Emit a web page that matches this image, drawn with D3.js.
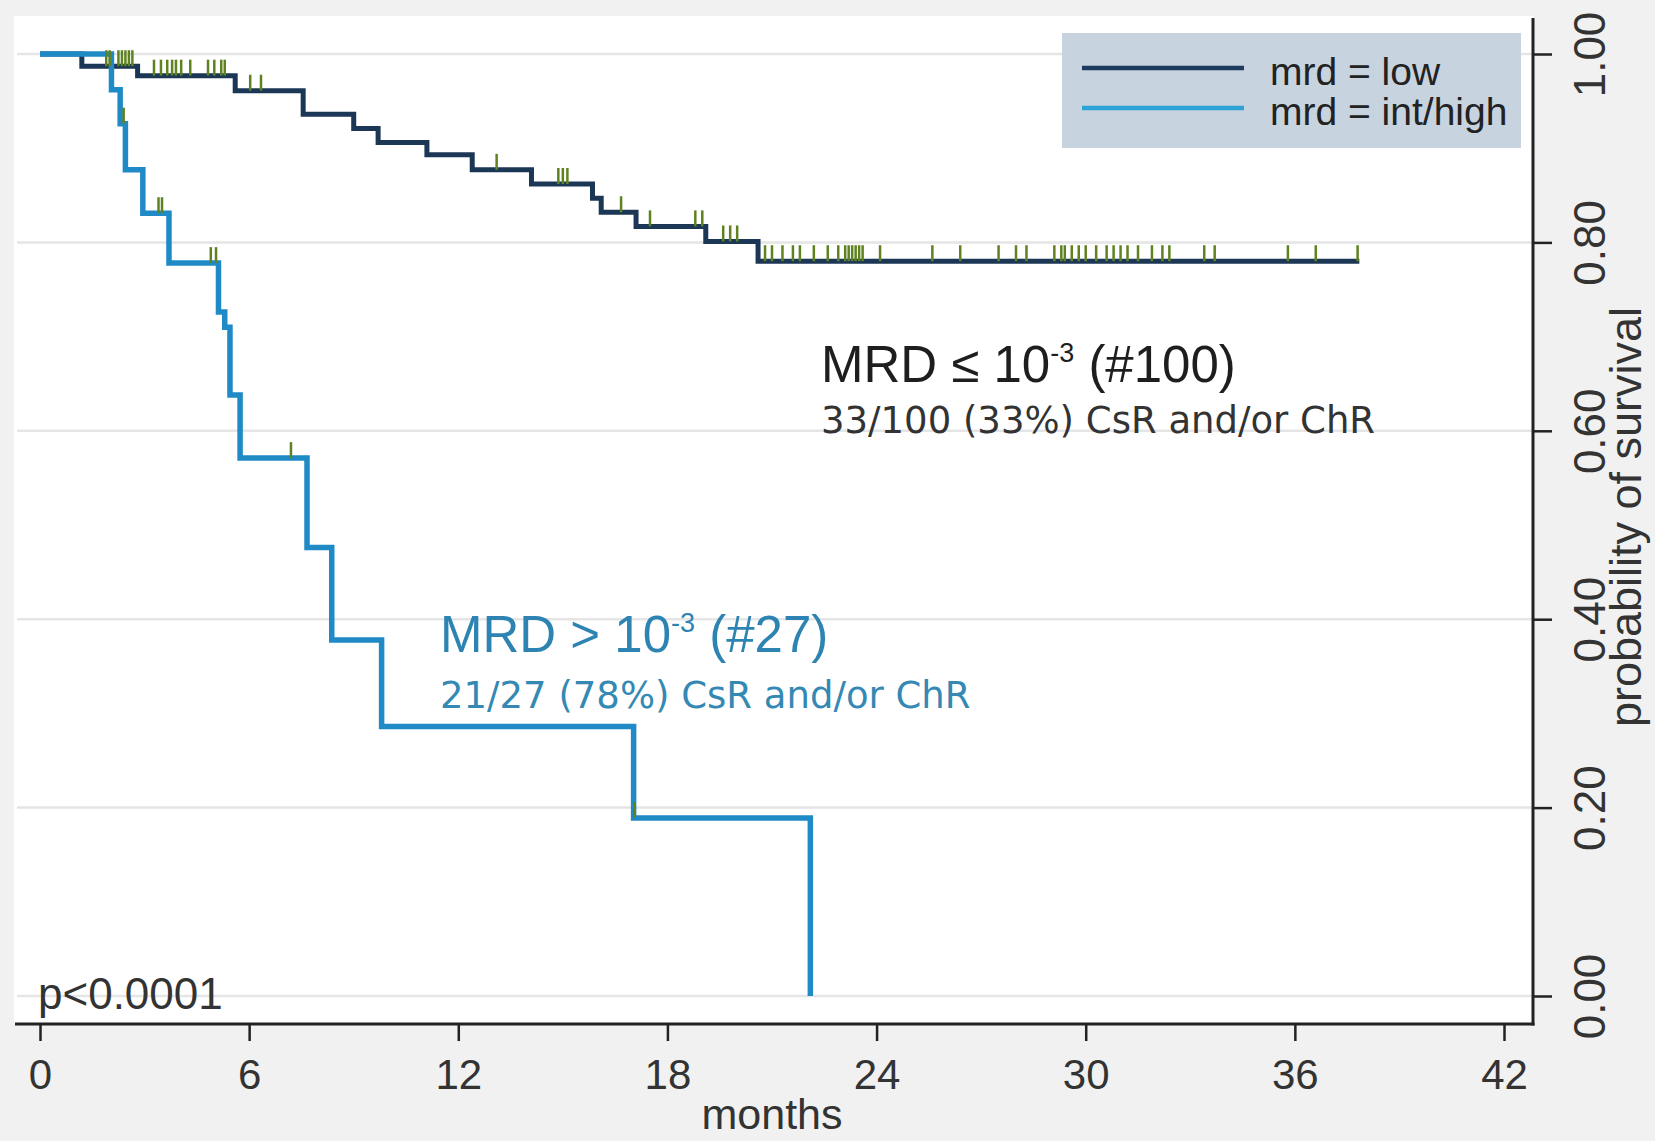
<!DOCTYPE html>
<html>
<head>
<meta charset="utf-8">
<script src="https://cdn.jsdelivr.net/npm/d3@7"></script>
<style>
  html, body { margin: 0; padding: 0; background: #f1f1f1; }
  svg { display: block; }
  text { font-family: 'Liberation Sans', Arial, sans-serif; }
</style>
</head>
<body>
<svg id="chart" width="1655" height="1141"></svg>
<script>
// ticks
const monthTicks = [0, 6, 12, 18, 24, 30, 36, 42];
const survTicks = [0, 0.2, 0.4, 0.6, 0.8, 1.0];

// mrd = low: step times (months) and survival after each step
const lowTime = [0, 1.2, 2.8, 5.6, 7.55, 9.0, 9.7, 11.1, 12.4, 14.1, 15.85, 16.1, 17.1, 19.1, 20.6, 37.85];
const lowSurv = [1.0, 0.987, 0.977, 0.961, 0.936, 0.921, 0.906, 0.893, 0.877, 0.862, 0.847, 0.832, 0.817, 0.801, 0.780, 0.780];
const lowCensor = [1.9, 2.0, 2.25, 2.35, 2.45, 2.55, 2.65, 3.27, 3.47, 3.65, 3.79, 3.9, 4.05, 4.31, 4.82, 5.0, 5.2, 5.3,
  6.03, 6.34, 13.1, 14.87, 15.0, 15.13, 16.67, 17.5, 18.8, 19.0, 19.6, 19.8, 20.0,
  20.8, 21.0, 21.3, 21.6, 21.8, 22.2, 22.6, 22.9, 23.1, 23.2, 23.3, 23.4, 23.5, 23.6, 24.1, 25.6, 26.4, 27.5,
  28.0, 28.3, 29.1, 29.3, 29.4, 29.6, 29.8, 30.0, 30.3, 30.6, 30.8, 31.0, 31.2, 31.5, 31.9, 32.2, 32.4,
  33.4, 33.7, 35.8, 36.6, 37.8];

// mrd = int/high
const highTime = [0, 2.05, 2.3, 2.45, 2.95, 3.7, 5.12, 5.3, 5.45, 5.74, 7.66, 8.37, 9.8, 17.03, 22.1];
const highSurv = [1.0, 0.962, 0.926, 0.877, 0.831, 0.778, 0.726, 0.710, 0.638, 0.571, 0.476, 0.378, 0.286, 0.189, 0.0];
const highCensor = [2.4, 3.4, 3.5, 4.9, 5.05, 7.2, 17.05];

const legendLabels = ['mrd = low', 'mrd = int/high'];

const kleurLaag = '#1c3656';
const kleurHoog = '#1f8ac6';
const kleurCensor = '#5f8220';

const svg = d3.select('#chart');

const plotLinks = 14, plotRechts = 1533, plotBoven = 16, plotOnder = 1024;

const x = d3.scaleLinear().domain([0, 42]).range([40, 1504]);
const y = d3.scaleLinear().domain([0, 1]).range([996, 54]);

// white plot region
svg.append('rect')
  .attr('x', plotLinks).attr('y', plotBoven)
  .attr('width', plotRechts - plotLinks).attr('height', plotOnder - plotBoven)
  .attr('fill', '#ffffff');

// gridlines
svg.append('g').selectAll('line').data(survTicks).join('line')
  .attr('x1', plotLinks + 3).attr('x2', plotRechts)
  .attr('y1', d => y(d)).attr('y2', d => y(d))
  .attr('stroke', '#e5e5e5').attr('stroke-width', 2.5);

// step curves
const stap = d3.line().x(d => x(d[0])).y(d => y(d[1])).curve(d3.curveStepAfter);

svg.append('path')
  .datum(d3.zip(lowTime, lowSurv))
  .attr('d', stap)
  .attr('fill', 'none').attr('stroke', kleurLaag).attr('stroke-width', 5);

svg.append('path')
  .datum(d3.zip(highTime, highSurv))
  .attr('d', stap)
  .attr('fill', 'none').attr('stroke', kleurHoog).attr('stroke-width', 5.5);

// censor marks
function survOp(tijden, surv, t) {
  let i = d3.bisectRight(tijden, t) - 1;
  return surv[Math.max(0, i)];
}

function censors(tijden, surv, lijst) {
  svg.append('g').selectAll('line').data(lijst).join('line')
    .attr('x1', d => x(d)).attr('x2', d => x(d))
    .attr('y1', d => y(survOp(tijden, surv, d)))
    .attr('y2', d => y(survOp(tijden, surv, d)) - 16)
    .attr('stroke', kleurCensor).attr('stroke-width', 2.5);
}
censors(lowTime, lowSurv, lowCensor);
censors(highTime, highSurv, highCensor);

// x axis
svg.append('line')
  .attr('x1', 15).attr('x2', plotRechts + 1.5)
  .attr('y1', plotOnder).attr('y2', plotOnder)
  .attr('stroke', '#222').attr('stroke-width', 3);

const xAs = svg.append('g')
  .attr('transform', `translate(0,${plotOnder})`)
  .call(d3.axisBottom(x).tickValues(monthTicks).tickSize(17).tickPadding(18));
xAs.select('.domain').remove();
xAs.selectAll('line').attr('stroke', '#222').attr('stroke-width', 2.5);
xAs.selectAll('text')
  .attr('fill', '#333').style('font-size', '42px').style('font-family', "'Liberation Sans', Arial, sans-serif");

svg.append('text')
  .attr('x', 772).attr('y', 1129)
  .attr('text-anchor', 'middle')
  .attr('fill', '#333').style('font-size', '43px')
  .text('months');

// y axis on the right
svg.append('line')
  .attr('x1', plotRechts).attr('x2', plotRechts)
  .attr('y1', 18).attr('y2', plotOnder + 1.5)
  .attr('stroke', '#222').attr('stroke-width', 3);

const yAs = svg.append('g')
  .attr('transform', `translate(${plotRechts},0)`)
  .call(d3.axisRight(y).tickValues(survTicks).tickSize(19).tickFormat(d3.format('.2f')));
yAs.select('.domain').remove();
yAs.selectAll('line').attr('stroke', '#222').attr('stroke-width', 2.5);
yAs.selectAll('text')
  .attr('x', null).attr('dy', null)
  .attr('transform', 'translate(72,0) rotate(-90)')
  .attr('text-anchor', 'middle')
  .attr('fill', '#333').style('font-size', '44px').style('font-family', "'Liberation Sans', Arial, sans-serif");

svg.append('text')
  .attr('transform', 'translate(1641,517) rotate(-90)')
  .attr('text-anchor', 'middle')
  .attr('fill', '#333').style('font-size', '45px')
  .text('probability of survival');

// legend
const legende = svg.append('g');
legende.append('rect')
  .attr('x', 1062).attr('y', 33).attr('width', 459).attr('height', 115)
  .attr('fill', '#c7d3df');
const legY = d3.scalePoint().domain(legendLabels).range([68, 108]);
const legKleur = d3.scaleOrdinal().domain(legendLabels).range(['#1d3a60', '#2ea3d6']);
legende.selectAll('line').data(legendLabels).join('line')
  .attr('x1', 1082).attr('x2', 1244)
  .attr('y1', d => legY(d)).attr('y2', d => legY(d))
  .attr('stroke', d => legKleur(d)).attr('stroke-width', 4.5);
legende.selectAll('text').data(legendLabels).join('text')
  .attr('x', 1270).attr('y', d => legY(d) + 17)
  .attr('fill', '#222').style('font-size', '39px')
  .text(d => d);

// annotations
function mrdLabel(xPos, yPos, teken, aantal, kleur) {
  const t = svg.append('text')
    .attr('x', xPos).attr('y', yPos)
    .attr('fill', kleur).style('font-size', '51px');
  t.append('tspan').text(`MRD ${teken} 10`);
  t.append('tspan').attr('dy', -20).style('font-size', '27px').text('-3');
  t.append('tspan').attr('dy', 20).text(` (#${aantal})`);
}

mrdLabel(821, 382, '\u2264', 100, '#1e1e1e');
svg.append('text')
  .attr('x', 821).attr('y', 433)
  .attr('fill', '#333').style('font-size', '37px').style('font-family', "'DejaVu Sans', Verdana, sans-serif")
  .text('33/100 (33%) CsR and/or ChR');

mrdLabel(440, 652, '>', 27, '#2d84b2');
svg.append('text')
  .attr('x', 440).attr('y', 708)
  .attr('fill', '#3489b4').style('font-size', '37px').style('font-family', "'DejaVu Sans', Verdana, sans-serif")
  .text('21/27 (78%) CsR and/or ChR');

svg.append('text')
  .attr('x', 38).attr('y', 1009)
  .attr('fill', '#333').style('font-size', '44px')
  .text('p<0.0001');
</script>
</body>
</html>
